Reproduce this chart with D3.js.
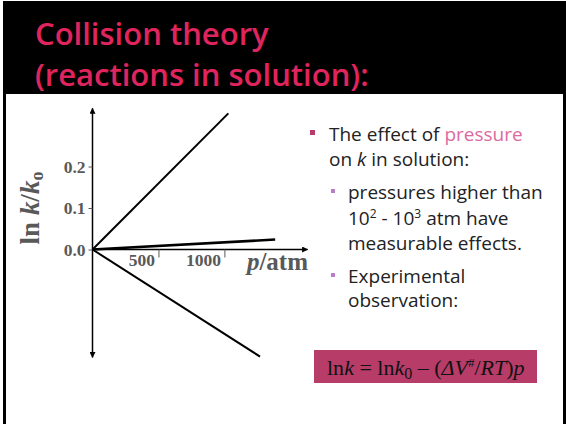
<!DOCTYPE html>
<html>
<head>
<meta charset="utf-8">
<script src="https://cdn.jsdelivr.net/npm/d3@7"></script>
<style>
  html, body { margin: 0; padding: 0; background: #fff; }
  svg { display: block; }
</style>
</head>
<body>
<svg id="chart" width="566" height="424"></svg>
<script>
// ---- data ----
const titleLines = ["Collision theory", "(reactions in solution):"];
const lineNames = ["upper", "middle", "lower"];
const lineEndPressure = [1030, 1385, 1270];   // atm
const lineEndLnK = [0.328, 0.024, -0.258];     // ln k/k0
const xTickValues = [500, 1000];
const yTickValues = [0.0, 0.1, 0.2];
const xDomain = [0, 1630];
const yDomain = [-0.26, 0.34];

const svg = d3.select("#chart");

// slide frame
svg.append("rect").attr("x", 3).attr("y", 1).attr("width", 563).attr("height", 93).attr("fill", "#000");
svg.append("rect").attr("x", 3).attr("y", 94).attr("width", 3).attr("height", 330).attr("fill", "#000");
svg.append("rect").attr("x", 563).attr("y", 94).attr("width", 3).attr("height", 330).attr("fill", "#000");

// title
const titleFont = "'Open Sans', Lato, sans-serif";
svg.selectAll("text.title").data(titleLines).enter().append("text")
  .attr("class", "title")
  .attr("x", 35)
  .attr("y", (d, i) => 45 + i * 41)
  .attr("font-family", titleFont)
  .attr("font-size", 31)
  .attr("font-weight", 600)
  .attr("fill", "#e0245e")
  .text(d => d);

// scales
const x = d3.scaleLinear().domain(xDomain).range([92.5, 307.5]);
const y = d3.scaleLinear().domain(yDomain).range([357.4, 108.4]);

const defs = svg.append("defs");
defs.append("marker").attr("id", "arr").attr("viewBox", "0 0 10 10")
  .attr("refX", 9).attr("refY", 5).attr("markerWidth", 7).attr("markerHeight", 6)
  .attr("markerUnits", "userSpaceOnUse").attr("orient", "auto-start-reverse")
  .append("path").attr("d", "M0,0 L10,5 L0,10 z").attr("fill", "#000");

const g = svg.append("g");
const gray = "#595959";
const serif = "'Liberation Serif', 'Times New Roman', serif";

// y axis line with double arrows
g.append("line")
  .attr("x1", x(0)).attr("x2", x(0))
  .attr("y1", y(yDomain[0])).attr("y2", y(yDomain[1]))
  .attr("stroke", "#000").attr("stroke-width", 1.5)
  .attr("marker-start", "url(#arr)").attr("marker-end", "url(#arr)");
// x axis line with arrow
g.append("line")
  .attr("x1", x(0)).attr("x2", x(xDomain[1]))
  .attr("y1", y(0)).attr("y2", y(0))
  .attr("stroke", "#000").attr("stroke-width", 1.5)
  .attr("marker-end", "url(#arr)");

// y ticks
const yAxis = d3.axisLeft(y).tickValues(yTickValues).tickSize(4).tickPadding(3).tickFormat(d3.format(".1f"));
const yg = g.append("g").attr("transform", `translate(${x(0)},0)`).call(yAxis);
yg.select(".domain").remove();
yg.selectAll(".tick line").attr("stroke", gray).attr("stroke-width", 1);
yg.selectAll(".tick text")
  .attr("font-family", serif)
  .attr("font-weight", "bold").attr("font-size", 17.5).attr("fill", gray);

// x ticks (below axis, label left of tick)
const xg = g.append("g").attr("transform", `translate(0,${y(0)})`)
  .call(d3.axisBottom(x).tickValues(xTickValues).tickSize(8).tickFormat(d3.format("d")));
xg.select(".domain").remove();
xg.selectAll(".tick line").attr("stroke", gray).attr("stroke-width", 1);
xg.selectAll(".tick text")
  .attr("font-family", serif)
  .attr("font-weight", "bold").attr("font-size", 17.5).attr("fill", gray)
  .attr("text-anchor", "end").attr("x", -4).attr("y", 0).attr("dy", "0.95em");

// data lines
g.selectAll("line.series").data(lineNames).enter().append("line")
  .attr("class", "series")
  .attr("x1", x(0)).attr("y1", y(0))
  .attr("x2", (d, i) => x(lineEndPressure[i]))
  .attr("y2", (d, i) => y(lineEndLnK[i]))
  .attr("stroke", "#000")
  .attr("stroke-width", (d, i) => i === 1 ? 2.6 : 2);

// axis titles
const yl = g.append("text")
  .attr("transform", `translate(39,208) rotate(-90)`)
  .attr("text-anchor", "middle")
  .attr("font-family", serif)
  .attr("font-weight", "bold").attr("font-size", 27).attr("fill", gray);
yl.append("tspan").text("ln ");
yl.append("tspan").attr("font-style", "italic").text("k");
yl.append("tspan").text("/");
yl.append("tspan").attr("font-style", "italic").text("k");
yl.append("tspan").attr("font-size", 18).attr("dy", 4).text("o");

const xl = g.append("text")
  .attr("x", 308).attr("y", 270).attr("text-anchor", "end")
  .attr("font-family", serif)
  .attr("font-weight", "bold").attr("font-size", 25).attr("fill", gray);
xl.append("tspan").attr("font-style", "italic").text("p");
xl.append("tspan").text("/atm");

// bullet text
const bodyFont = "'Open Sans', Lato, sans-serif";
const tg = svg.append("g").attr("font-family", bodyFont).attr("font-size", 19).attr("fill", "#222");
tg.append("rect").attr("x", 310).attr("y", 130).attr("width", 5).attr("height", 5).attr("fill", "#b83c6b");
const t1 = tg.append("text").attr("x", 329).attr("y", 141);
t1.append("tspan").text("The effect of ");
t1.append("tspan").attr("fill", "#dc6aa0").text("pressure");
const t2 = tg.append("text").attr("x", 329).attr("y", 166);
t2.append("tspan").text("on ");
t2.append("tspan").attr("font-style", "italic").text("k");
t2.append("tspan").text(" in solution:");

const subs = [
  {y: 199, text: "pressures higher than", bullet: true},
  {y: 225, text: null, bullet: false},
  {y: 250, text: "measurable effects.", bullet: false},
  {y: 283, text: "Experimental", bullet: true},
  {y: 307, text: "observation:", bullet: false}
];
subs.forEach(s => {
  if (s.bullet) tg.append("rect").attr("x", 331).attr("y", s.y - 10).attr("width", 4).attr("height", 4).attr("fill", "#b77fc9");
  const t = tg.append("text").attr("x", 348).attr("y", s.y);
  if (s.text) t.text(s.text);
  else {
    t.append("tspan").text("10");
    t.append("tspan").attr("font-size", 12).attr("dy", -7).text("2");
    t.append("tspan").attr("dy", 7).text(" - 10");
    t.append("tspan").attr("font-size", 12).attr("dy", -7).text("3");
    t.append("tspan").attr("dy", 7).text(" atm have");
  }
});

// formula box
svg.append("rect").attr("x", 314).attr("y", 350).attr("width", 223).attr("height", 33).attr("fill", "#b83c68");
const f = svg.append("text").attr("x", 327).attr("y", 375)
  .attr("font-family", serif).attr("font-size", 22).attr("fill", "#111");
f.append("tspan").text("ln");
f.append("tspan").attr("font-style", "italic").text("k");
f.append("tspan").text(" = ln");
f.append("tspan").attr("font-style", "italic").text("k");
f.append("tspan").attr("font-size", 16).attr("dy", 4).text("0");
f.append("tspan").attr("dy", -4).text(" – (");
f.append("tspan").attr("font-style", "italic").text("ΔV");
f.append("tspan").attr("font-size", 13).attr("dy", -8).text("#");
f.append("tspan").attr("dy", 8).text("/");
f.append("tspan").attr("font-style", "italic").text("RT");
f.append("tspan").text(")");
f.append("tspan").attr("font-style", "italic").text("p");
</script>
</body>
</html>
